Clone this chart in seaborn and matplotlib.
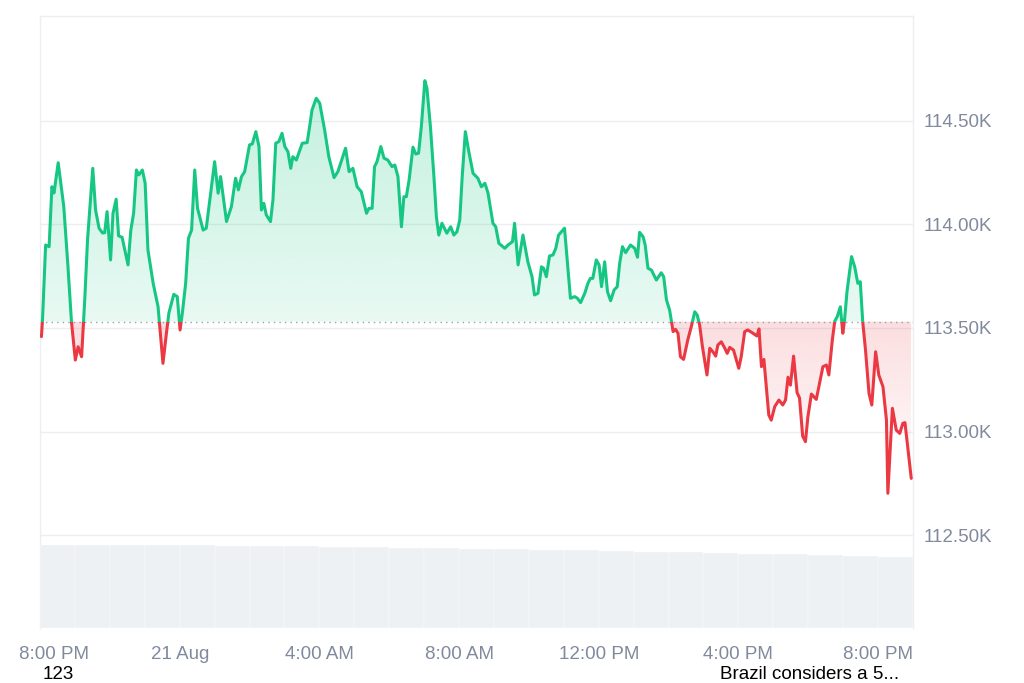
import numpy as np
import matplotlib
matplotlib.use("Agg")
import matplotlib.pyplot as plt
import seaborn as sns
from matplotlib.path import Path
from matplotlib.transforms import ScaledTranslation

# hours since 8:00 PM, 20 Aug
hours = [0.04, 0.07, 0.16, 0.26, 0.34, 0.40, 0.52, 0.68, 0.80, 0.90, 1.01, 1.09, 1.19, 1.28, 1.36, 1.51,
         1.59, 1.69, 1.79, 1.85, 1.92, 2.02, 2.09, 2.18, 2.25, 2.35, 2.52, 2.60, 2.68, 2.76, 2.83, 2.93,
         3.01, 3.09, 3.24, 3.38, 3.52, 3.62, 3.69, 3.83, 3.93, 4.01, 4.08, 4.17, 4.25, 4.34, 4.43, 4.51,
         4.67, 4.76, 5.00, 5.10, 5.17, 5.34, 5.48, 5.60, 5.68, 5.77, 5.86, 6.00, 6.08, 6.18, 6.27, 6.34,
         6.41, 6.48, 6.60, 6.67, 6.75, 6.84, 6.93, 7.01, 7.10, 7.18, 7.24, 7.34, 7.51, 7.65, 7.72, 7.79,
         7.91, 8.01, 8.15, 8.27, 8.42, 8.53, 8.75, 8.85, 8.96, 9.08, 9.20, 9.35, 9.42, 9.51, 9.58, 9.65,
         9.76, 9.85, 9.96, 10.08, 10.16, 10.25, 10.35, 10.42, 10.49, 10.57, 10.68, 10.76, 10.84, 10.92,
         11.02, 11.08, 11.18, 11.28, 11.35, 11.42, 11.51, 11.65, 11.76, 11.85, 11.94, 12.02, 12.09, 12.18,
         12.28, 12.40, 12.54, 12.64, 12.74, 12.83, 12.97, 13.05, 13.14, 13.31, 13.40, 13.53, 13.59, 13.69,
         13.83, 13.97, 14.09, 14.16, 14.26, 14.36, 14.42, 14.50, 14.59, 14.69, 14.77, 14.85, 15.02, 15.10,
         15.19, 15.31, 15.39, 15.48, 15.60, 15.69, 15.76, 15.83, 15.93, 16.01, 16.08, 16.17, 16.25, 16.34,
         16.44, 16.53, 16.60, 16.68, 16.77, 16.91, 17.03, 17.11, 17.17, 17.27, 17.33, 17.41, 17.51, 17.65,
         17.79, 17.86, 17.94, 18.03, 18.13, 18.20, 18.27, 18.34, 18.43, 18.55, 18.65, 18.75, 18.82, 18.89,
         18.97, 19.10, 19.18, 19.29, 19.35, 19.41, 19.51, 19.61, 19.68, 19.75, 19.86, 20.01, 20.08, 20.18,
         20.27, 20.42, 20.53, 20.59, 20.66, 20.73, 20.80, 20.87, 20.94, 21.04, 21.16, 21.27, 21.35, 21.42,
         21.49, 21.58, 21.68, 21.75, 21.84, 21.92, 21.99, 22.09, 22.23, 22.42, 22.52, 22.59, 22.69, 22.76,
         22.83, 22.92, 22.99, 23.04, 23.11, 23.24, 23.33, 23.42, 23.49, 23.56, 23.64, 23.74, 23.82, 23.93,
         24.02, 24.14, 24.24, 24.28, 24.41, 24.52, 24.62, 24.71, 24.77, 24.95]

prices = [113458, 113538, 113900, 113892, 114181, 114151, 114297, 114085, 113795, 113530, 113345, 113409,
          113361, 113635, 113924, 114270, 114069, 113981, 113958, 113959, 114061, 113828, 114053, 114121,
          113944, 113937, 113804, 113972, 114053, 114262, 114238, 114262, 114198, 113876, 113715, 113602,
          113329, 113475, 113572, 113662, 113651, 113490, 113578, 113715, 113932, 113972, 114262, 114077,
          113972, 113981, 114302, 114150, 114230, 114013, 114085, 114222, 114166, 114230, 114254, 114383,
          114388, 114447, 114375, 114069, 114101, 114045, 114013, 114117, 114391, 114399, 114439, 114375,
          114350, 114270, 114326, 114310, 114391, 114394, 114471, 114552, 114608, 114584, 114455, 114326,
          114225, 114254, 114367, 114254, 114270, 114181, 114157, 114053, 114077, 114077, 114278, 114302,
          114375, 114319, 114310, 114278, 114286, 114230, 113988, 114133, 114133, 114214, 114372, 114339,
          114343, 114471, 114693, 114656, 114471, 114230, 114037, 113948, 114005, 113957, 113988, 113948,
          113964, 114021, 114230, 114447, 114350, 114246, 114222, 114181, 114198, 114150, 114005, 113988,
          113908, 113884, 113900, 113916, 114005, 113804, 113948, 113819, 113747, 113659, 113667, 113795,
          113788, 113747, 113847, 113852, 113884, 113948, 113981, 113819, 113643, 113651, 113643, 113622,
          113667, 113715, 113739, 113739, 113828, 113804, 113699, 113819, 113675, 113631, 113683, 113699,
          113812, 113892, 113863, 113900, 113884, 113841, 113961, 113940, 113900, 113788, 113779, 113731,
          113766, 113747, 113635, 113586, 113482, 113493, 113474, 113361, 113348, 113442, 113506, 113578,
          113562, 113514, 113409, 113273, 113402, 113380, 113364, 113417, 113433, 113402, 113377, 113406,
          113393, 113305, 113361, 113482, 113490, 113474, 113461, 113495, 113313, 113348, 113216, 113080,
          113055, 113120, 113152, 113128, 113152, 113262, 113224, 113364, 113188, 113162, 112978, 112951,
          113071, 113181, 113155, 113313, 113321, 113273, 113442, 113533, 113554, 113602, 113474, 113538,
          113675, 113844, 113795, 113715, 113723, 113530, 113393, 113184, 113128, 113385, 113273, 113216,
          113055, 112702, 113112, 113007, 112991, 113040, 113043, 112774]

open_price = 113530

# hourly volume (relative units)
vol_hours = list(range(25))
volume = [83, 83, 83, 83, 83, 82, 82, 82, 81, 81, 80, 80, 79, 79, 78, 78, 77, 76, 76, 75, 74, 74, 73, 72, 71]

tick_hours = [0, 4, 8, 12, 16, 20, 24]
tick_labels = ["8:00 PM", "21 Aug", "4:00 AM", "8:00 AM", "12:00 PM", "4:00 PM", "8:00 PM"]
price_ticks = [112500, 113000, 113500, 114000, 114500]
price_labels = ["112.50K", "113.00K", "113.50K", "114.00K", "114.50K"]

GREEN = "#16c784"
RED = "#ea3943"
GREY = "#808a9d"
GRID = "#eceef1"

sns.set_theme(style="white")
plt.rcParams["font.family"] = ["Liberation Sans", "DejaVu Sans"]

fig = plt.figure(figsize=(10.24, 6.83), dpi=100)
ax = fig.add_axes([0.0391, 0.0805, 0.8525, 0.8961])

x = np.array(hours)
y = np.array(prices, dtype=float)
xlim = (0, 25)
ylim = (112052, 115005)

# gradient fills clipped to the area between the line and the open price
def gradient_fill(above, color, a_top, a_bottom):
    where = y >= open_price if above else y <= open_price
    poly = ax.fill_between(x, open_price, y, where=where, interpolate=True,
                           facecolor="none", edgecolor="none")
    clip = Path.make_compound_path(*poly.get_paths())
    if above:
        lo, hi = open_price, y.max()
    else:
        lo, hi = y.min(), open_price
    grad = np.zeros((100, 1, 4))
    grad[:, 0, :3] = matplotlib.colors.to_rgb(color)
    grad[:, 0, 3] = np.linspace(a_bottom, a_top, 100)
    im = ax.imshow(grad, extent=[x.min(), x.max(), lo, hi], origin="lower",
                   aspect="auto", zorder=1, interpolation="bicubic")
    im.set_clip_path(clip, ax.transData)

gradient_fill(True, GREEN, 0.26, 0.10)
gradient_fill(False, RED, 0.17, 0.0)

# price line, green above the open and red below
for color, lo, hi in [(GREEN, open_price, 200000), (RED, 0, open_price)]:
    sns.lineplot(x=hours, y=prices, ax=ax, color=color, lw=2.2, estimator=None, zorder=3)
    line = ax.lines[-1]
    line.set_solid_joinstyle("round")
    rect = Path([(-5, lo), (30, lo), (30, hi), (-5, hi), (-5, lo)])
    line.set_clip_path(rect, ax.transData)

ax.axhline(open_price, color="#9aa0a8", lw=1, ls=(0, (1, 3)), zorder=2)

ax.set_xlim(*xlim)
ax.set_ylim(*ylim)

for v in price_ticks:
    ax.axhline(v, color=GRID, lw=1, zorder=0)

ax.yaxis.tick_right()
ax.set_yticks(price_ticks, price_labels)
ax.set_xticks(tick_hours, tick_labels)
ax.tick_params(axis="y", length=0, pad=7.5, labelsize=13.5, labelcolor=GREY)
ax.tick_params(axis="x", length=0, pad=13, labelsize=13.5, labelcolor=GREY)
ax.set_xlabel("")
ax.set_ylabel("")

# first label sits shifted right of its tick
first = ax.get_xticklabels()[0]
first.set_transform(first.get_transform() + ScaledTranslation(0.14, 0, fig.dpi_scale_trans))

for side in ["left", "top", "right"]:
    ax.spines[side].set_color(GRID)
    ax.spines[side].set_linewidth(1)
ax.spines["bottom"].set_visible(False)

# volume strip at the bottom
vax = ax.inset_axes([0, 0, 1, 0.1356])
vax.bar(np.array(vol_hours) + 0.5, volume, width=1.0, color="#eef1f4",
        edgecolor="white", linewidth=0.25)
vax.set_xlim(*xlim)
vax.set_ylim(0, max(volume))
vax.set_facecolor("none")
vax.axis("off")

fig.text(43 / 1024, 0.006, "123", fontsize=13.5, color="black", ha="left", va="baseline")
fig.text(720 / 1024, 0.006, "Brazil considers a 5...", fontsize=13.5, color="black",
         ha="left", va="baseline")

fig.savefig("out.png", dpi=100)
